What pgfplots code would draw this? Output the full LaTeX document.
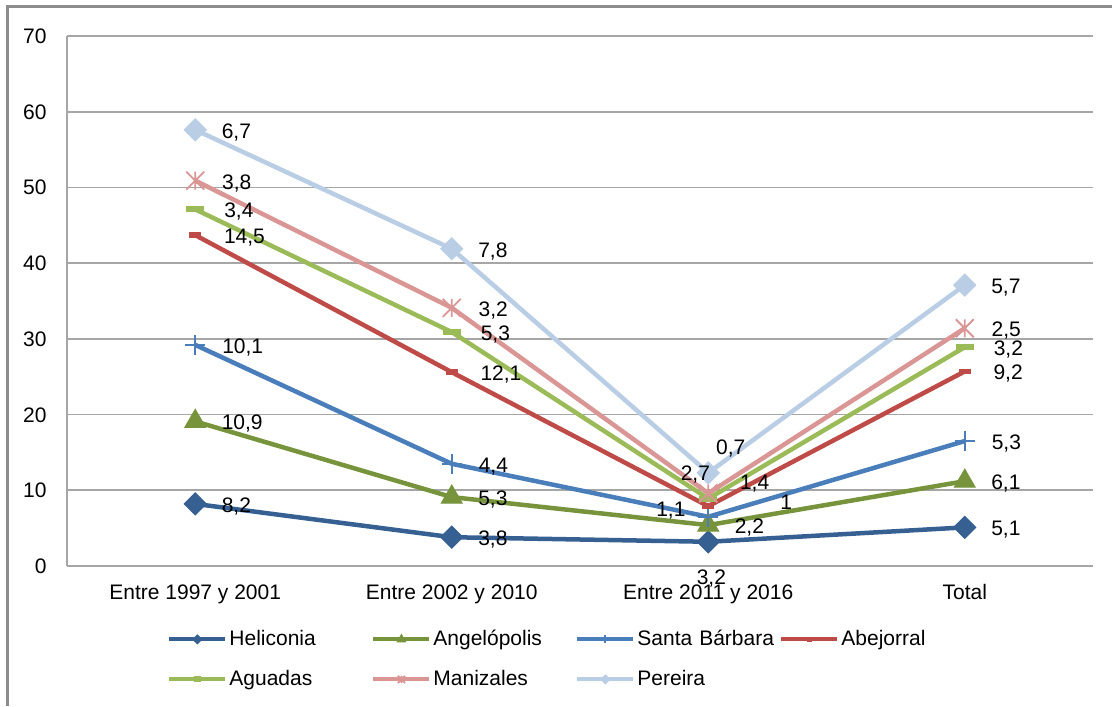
\documentclass[border=0pt]{standalone}
\usepackage{fontspec}
\setmainfont{Liberation Sans}
\usepackage{pgfplots}
\pgfplotsset{compat=1.18}
\definecolor{cHel}{HTML}{376092}
\definecolor{cAng}{HTML}{77933C}
\definecolor{cSan}{HTML}{4A7EBB}
\definecolor{cAbe}{HTML}{BE4B48}
\definecolor{cAgu}{HTML}{9BBB59}
\definecolor{cMan}{HTML}{D99694}
\definecolor{cPer}{HTML}{B9CDE5}
\definecolor{cGrid}{HTML}{A6A6A6}
\definecolor{cFrame}{HTML}{8C8C8C}
\pgfdeclareplotmark{xstar}{%
  \pgfpathmoveto{\pgfqpoint{-\pgfplotmarksize}{-\pgfplotmarksize}}%
  \pgfpathlineto{\pgfqpoint{\pgfplotmarksize}{\pgfplotmarksize}}%
  \pgfpathmoveto{\pgfqpoint{-\pgfplotmarksize}{\pgfplotmarksize}}%
  \pgfpathlineto{\pgfqpoint{\pgfplotmarksize}{-\pgfplotmarksize}}%
  \pgfpathmoveto{\pgfqpoint{0pt}{-\pgfplotmarksize}}%
  \pgfpathlineto{\pgfqpoint{0pt}{\pgfplotmarksize}}%
  \pgfusepathqstroke}
\pgfplotsset{
  lbl/.style={
    nodes near coords,
    point meta=explicit symbolic,
    visualization depends on={value \thisrow{dx}\as\dx},
    visualization depends on={value \thisrow{dy}\as\dy},
    nodes near coords style={anchor=west, inner sep=0pt, text height=7.5pt, text depth=0pt,
      xshift=\dx pt, yshift=\dy pt, text=black, font=\fontsize{10.5}{12}\selectfont},
  },
}
\begin{document}
\begin{tikzpicture}[x=1pt,y=1pt]
\path[use as bounding box] (0,0) rectangle (556,353);
\draw[line width=1.5pt, color=cFrame] (3.5,0) -- (3.5,349.5) -- (556,349.5);
\begin{axis}[
  at={(33.5pt,70pt)}, anchor=south west,
  scale only axis, width=513pt, height=265pt,
  xmin=-0.5, xmax=3.5, ymin=0, ymax=70,
  xtick={0,1,2,3},
  xticklabels={Entre 1997 y 2001, Entre 2002 y 2010, Entre 2011 y 2016, Total},
  ytick={0,10,...,70},
  axis x line*=bottom, axis y line*=left,
  axis line style={draw=cGrid, line width=0.8pt},
  ymajorgrids, grid style={draw=cGrid, line width=0.8pt},
  major tick length=0pt,
  clip=false,
  /pgf/number format/assume math mode=true,
  tick label style={font=\fontsize{10.5}{12}\selectfont, text=black},
  xticklabel style={anchor=north, inner sep=0pt, text height=7.5pt, text depth=2pt, yshift=-9pt},
  yticklabel style={anchor=east, inner sep=0pt, text height=7.5pt, text depth=0pt, xshift=-10pt},
  every axis plot/.append style={line width=2.25pt},
  legend columns=4,
  legend style={at={(rel axis cs:0.0975,0)}, anchor=north west, yshift=-30.5pt,
    draw=none, fill=none, inner sep=0pt, row sep=8pt,
    font=\fontsize{10.5}{12}\selectfont,
    nodes={inner sep=1pt, text width=70pt, text height=8pt, text depth=2pt, align=left}},
  legend cell align=left,
  legend image code/.code={%
    \draw[line width=2pt, mark repeat=2, mark phase=2, every mark/.append style={scale=0.4}]
      plot coordinates {(0pt,0pt) (14pt,0pt) (28pt,0pt)};},
]
\addplot[color=cHel, mark=square*, mark size=3.9pt, mark options={rotate=45, fill=cHel, draw=cHel, line width=0.5pt}, lbl]
  table[x=x, y=y, meta=lab] {
x y lab dx dy
0 8.2 8,2 13 -0.5
1 3.8 3,8 13 -0.5
2 3.2 3,2 -6 -17.5
3 5.1 5,1 13 -0.5
};
\addlegendentry{Heliconia}
\addplot[color=cAng, mark=triangle*, mark size=6pt, mark options={fill=cAng, draw=cAng, line width=0.5pt}, lbl]
  table[x=x, y=y, meta=lab] {
x y lab dx dy
0 19.1 10,9 13 -0.5
1 9.1 5,3 13 -0.5
2 5.4 2,2 13 -0.5
3 11.2 6,1 13 -0.5
};
\addlegendentry{Angelópolis}
\addplot[color=cSan, mark=+, mark size=5pt, mark options={line width=1pt}, lbl]
  table[x=x, y=y, meta=lab] {
x y lab dx dy
0 29.2 10,1 13 -0.5
1 13.5 4,4 13 -0.5
2 6.5 1,1 -26.5 3.9
3 16.5 5,3 13 -0.5
};
\addlegendentry{Santa Bárbara}
\addplot[color=cAbe, mark=-, mark size=3pt, mark options={line width=2.8pt}, lbl]
  table[x=x, y=y, meta=lab] {
x y lab dx dy
0 43.7 14,5 13 -0.5
1 25.6 12,1 13 -0.5
2 7.9 1,4 14.5 12.1
3 25.7 9,2 13 -0.5
};
\addlegendentry{Abejorral}
\addplot[color=cAgu, mark=-, mark size=4.5pt, mark options={line width=3pt}, lbl]
  table[x=x, y=y, meta=lab] {
x y lab dx dy
0 47.1 3,4 13 -0.5
1 30.9 5,3 13 -0.5
2 8.9 1 34.5 -1.7
3 28.9 3,2 13 -0.5
};
\addlegendentry{Aguadas}
\addplot[color=cMan, mark=xstar, mark size=4.5pt, mark options={line width=0.9pt}, lbl]
  table[x=x, y=y, meta=lab] {
x y lab dx dy
0 50.9 3,8 13 -0.5
1 34.1 3,2 13 -0.5
2 9.6 0,7 3.5 23.2
3 31.4 2,5 13 -0.5
};
\addlegendentry{Manizales}
\addplot[color=cPer, mark=square*, mark size=3.9pt, mark options={rotate=45, fill=cPer, draw=cPer, line width=0.5pt}, lbl]
  table[x=x, y=y, meta=lab] {
x y lab dx dy
0 57.6 6,7 13 -0.5
1 41.9 7,8 13 -0.5
2 12.3 2,7 -14 0
3 37.1 5,7 13 -0.5
};
\addlegendentry{Pereira}
\end{axis}
\end{tikzpicture}
\end{document}
